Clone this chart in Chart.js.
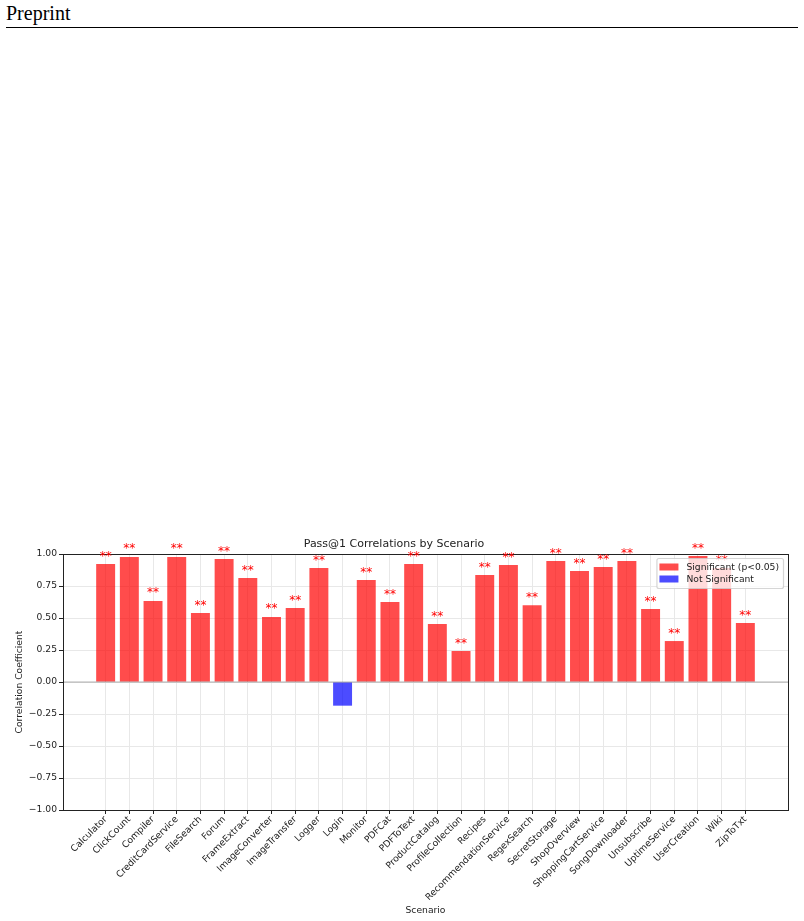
<!DOCTYPE html>
<html lang="en">
  <head>
    <meta charset="UTF-8" />
    <script src="https://cdn.jsdelivr.net/npm/chart.js"></script>
    <title>Pass@1 Correlations by Scenario</title>
    <style>
      body {
        margin: 0;
        width: 804px;
        height: 921px;
        background: #fff;
        position: relative;
        overflow: hidden;
      }
      .page-header {
        position: absolute;
        left: 6px;
        top: 2px;
        font-family: "Liberation Serif", "Times New Roman", serif;
        font-size: 20px;
        color: #000;
      }
      .page-rule {
        position: absolute;
        left: 6px;
        top: 27px;
        width: 792px;
        height: 0;
        border-top: 1px solid #000;
      }
      .chart-container {
        position: absolute;
        left: 0;
        top: 530px;
        width: 804px;
        height: 391px;
      }
    </style>
  </head>
  <body>
    <div class="page-header">Preprint</div>
    <div class="page-rule"></div>

    <div class="chart-container">
      <canvas id="corrChart"></canvas>
    </div>

    <script>
      const scenarios = [
        "Calculator", "ClickCount", "Compiler", "CreditCardService", "FileSearch",
        "Forum", "FrameExtract", "ImageConverter", "ImageTransfer", "Logger",
        "Login", "Monitor", "PDFCat", "PDFToText", "ProductCatalog",
        "ProfileCollection", "Recipes", "RecommendationService", "RegexSearch",
        "SecretStorage", "ShopOverview", "ShoppingCartService", "SongDownloader",
        "Unsubscribe", "UptimeService", "UserCreation", "Wiki", "ZipToTxt",
      ];
      const correlations = [
        0.922, 0.977, 0.633, 0.977, 0.539,
        0.961, 0.812, 0.508, 0.578, 0.89,
        -0.185, 0.797, 0.625, 0.922, 0.453,
        0.242, 0.836, 0.914, 0.6,
        0.945, 0.867, 0.898, 0.945,
        0.57, 0.32, 0.984, 0.89, 0.461,
      ];
      const significant = [
        true, true, true, true, true,
        true, true, true, true, true,
        false, true, true, true, true,
        true, true, true, true,
        true, true, true, true,
        true, true, true, true, true,
      ];
      const yTicks = [-1, -0.75, -0.5, -0.25, 0, 0.25, 0.5, 0.75, 1];

      const RED = "rgba(255, 0, 0, 0.7)";
      const BLUE = "rgba(0, 0, 255, 0.7)";
      const FONT = "'DejaVu Sans', sans-serif";

      const sigPoints = [];
      const nonSigPoints = [];
      scenarios.forEach((name, i) => {
        const p = { x: i, y: correlations[i] };
        if (significant[i]) sigPoints.push(p);
        else nonSigPoints.push(p);
      });

      // frame, zero line, stars and the boxed legend inside the axes
      const decorPlugin = {
        id: "decor",
        afterDatasetsDraw(chart) {
          const { ctx, chartArea, scales } = chart;
          const x = scales.x;
          const y = scales.y;

          ctx.save();
          ctx.strokeStyle = "#222";
          ctx.lineWidth = 1;
          ctx.strokeRect(
            Math.round(chartArea.left) + 0.5,
            Math.round(chartArea.top) + 0.5,
            Math.round(chartArea.right - chartArea.left),
            Math.round(chartArea.bottom - chartArea.top)
          );

          ctx.strokeStyle = "rgba(0,0,0,0.3)";
          ctx.lineWidth = 1.2;
          ctx.beginPath();
          ctx.moveTo(chartArea.left, y.getPixelForValue(0));
          ctx.lineTo(chartArea.right, y.getPixelForValue(0));
          ctx.stroke();

          ctx.fillStyle = "#ff0000";
          ctx.font = "12px " + FONT;
          ctx.textAlign = "center";
          ctx.textBaseline = "alphabetic";
          correlations.forEach((v, i) => {
            if (!significant[i]) return;
            ctx.fillText("**", x.getPixelForValue(i), y.getPixelForValue(v + 0.035));
          });

          // legend
          ctx.font = "9.2px " + FONT;
          const items = chart.data.datasets.map((ds) => ({
            text: ds.label,
            color: ds.backgroundColor,
          }));
          const textW = Math.max(...items.map((it) => ctx.measureText(it.text).width));
          const boxW = 3 + 19 + 8 + textW + 4;
          const boxH = 30;
          const bx = chartArea.right - 5 - boxW;
          const by = chartArea.top + 4;
          ctx.beginPath();
          ctx.roundRect(bx + 0.5, by + 0.5, boxW, boxH, 2);
          ctx.fillStyle = "rgba(255,255,255,0.8)";
          ctx.fill();
          ctx.strokeStyle = "rgba(204,204,204,0.8)";
          ctx.stroke();
          ctx.textAlign = "left";
          ctx.textBaseline = "middle";
          items.forEach((it, k) => {
            const cy = by + 9 + k * 12;
            ctx.fillStyle = it.color;
            ctx.fillRect(bx + 3, cy - 3.5, 19, 7);
            ctx.fillStyle = "#222";
            ctx.fillText(it.text, bx + 30, cy + 0.5);
          });
          ctx.restore();
        },
      };

      const ctx = document.getElementById("corrChart").getContext("2d");
      new Chart(ctx, {
        type: "bar",
        data: {
          datasets: [
            {
              label: "Significant (p<0.05)",
              data: sigPoints,
              backgroundColor: RED,
              borderWidth: 0,
            },
            {
              label: "Not Significant",
              data: nonSigPoints,
              backgroundColor: BLUE,
              borderWidth: 0,
            },
          ],
        },
        options: {
          responsive: true,
          maintainAspectRatio: false,
          animation: false,
          grouped: false,
          barPercentage: 0.8,
          categoryPercentage: 1.0,
          layout: {
            padding: { left: 0, right: 16, top: 0, bottom: 0 },
          },
          plugins: {
            legend: { display: false },
            tooltip: { enabled: false },
            title: {
              display: true,
              text: "Pass@1 Correlations by Scenario",
              color: "#222",
              font: { family: FONT, size: 11, weight: "normal" },
              padding: { top: 8, bottom: 2.8 },
            },
          },
          scales: {
            x: {
              type: "linear",
              offset: false,
              min: -1.8,
              max: scenarios.length - 1 + 1.8,
              afterBuildTicks: (scale) => {
                scale.ticks = scenarios.map((_, i) => ({ value: i }));
              },
              afterFit: (scale) => {
                scale.height = 111;
              },
              ticks: {
                autoSkip: false,
                minRotation: 45,
                maxRotation: 45,
                padding: 0,
                color: "#222",
                font: { family: FONT, size: 9.2 },
                callback: (value) => scenarios[value],
              },
              grid: {
                offset: false,
                color: "#e8e8e8",
                tickColor: "#222",
                tickLength: 4,
              },
              border: { color: "#222", width: 1 },
              title: {
                display: true,
                text: "Scenario",
                color: "#222",
                font: { family: FONT, size: 9.2 },
                padding: { top: 0, bottom: 4.5 },
              },
            },
            y: {
              min: -1,
              max: 1,
              afterBuildTicks: (scale) => {
                scale.ticks = yTicks.map((v) => ({ value: v }));
              },
              afterFit: (scale) => {
                scale.width = 63;
              },
              ticks: {
                padding: 2,
                color: "#222",
                font: { family: FONT, size: 9.2 },
                callback: (value) => value.toFixed(2).replace("-", "\u2212"),
              },
              grid: {
                color: "#e8e8e8",
                tickColor: "#222",
                tickLength: 4,
              },
              border: { color: "#222", width: 1 },
              title: {
                display: true,
                text: "Correlation Coefficient",
                color: "#222",
                font: { family: FONT, size: 9.2 },
                padding: { top: 14.5, bottom: 0 },
              },
            },
          },
        },
        plugins: [decorPlugin],
      });
    </script>
  </body>
</html>
